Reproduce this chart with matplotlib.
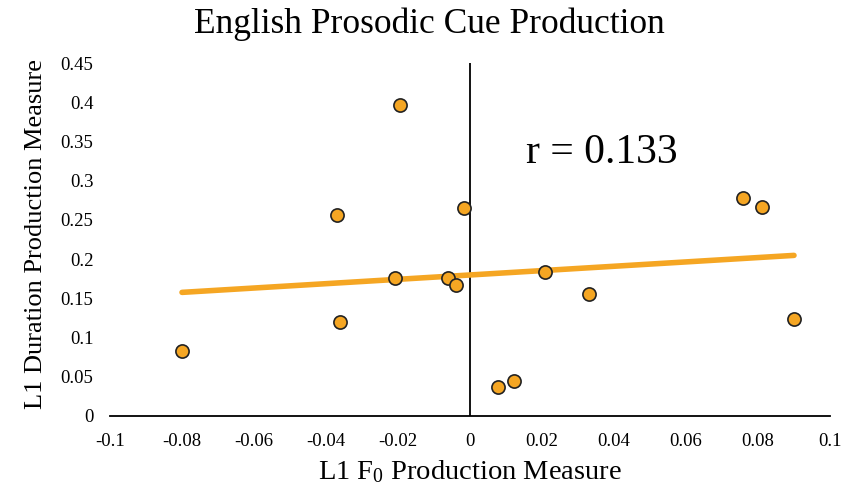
import numpy as np
import matplotlib
matplotlib.use("Agg")
import matplotlib.pyplot as plt

plt.rcParams['font.family'] = ['Liberation Serif', 'DejaVu Serif']
plt.rcParams['mathtext.fontset'] = 'custom'
plt.rcParams['mathtext.rm'] = 'Liberation Serif'
plt.rcParams['mathtext.it'] = 'Liberation Serif'

# L1 production measures per speaker
f0_measure = [-0.0800, -0.0194, -0.0369, -0.0361, -0.0208, -0.0060, -0.0040, -0.0016,
              0.0079, 0.0123, 0.0208, 0.0331, 0.0759, 0.0810, 0.0900]
duration_measure = [0.083, 0.396, 0.256, 0.120, 0.176, 0.176, 0.167, 0.265,
                    0.037, 0.045, 0.183, 0.156, 0.278, 0.267, 0.124]
x_ticks = [-0.1, -0.08, -0.06, -0.04, -0.02, 0, 0.02, 0.04, 0.06, 0.08, 0.1]
y_ticks = [0, 0.05, 0.1, 0.15, 0.2, 0.25, 0.3, 0.35, 0.4, 0.45]
r_label = "r = 0.133"

orange = "#F5A623"

fig = plt.figure(figsize=(8.43, 4.91), dpi=100)
ax = fig.add_axes([110 / 843, 75 / 491, 720 / 843, 353 / 491])

# linear trendline over the data range
slope, intercept = np.polyfit(f0_measure, duration_measure, 1)
xs = np.array([min(f0_measure), max(f0_measure)])
ax.plot(xs, slope * xs + intercept, color=orange, lw=4, solid_capstyle='round', zorder=2)

ax.scatter(f0_measure, duration_measure, s=90, color=orange, edgecolor='#222222',
           linewidth=1.2, zorder=3)

ax.set_xlim(-0.1, 0.1)
ax.set_ylim(0, 0.45)
ax.set_xticks(x_ticks)
ax.set_xticklabels([f"{v:g}" for v in x_ticks])
ax.set_yticks(y_ticks)
ax.set_yticklabels([f"{v:g}" for v in y_ticks])
ax.tick_params(length=0, labelsize=13.5)
ax.tick_params(axis='x', pad=12)
ax.tick_params(axis='y', pad=12)

for side in ['top', 'right', 'left']:
    ax.spines[side].set_visible(False)
ax.spines['bottom'].set_linewidth(1.3)
ax.axvline(0, color='black', lw=1.3, zorder=1)

ax.set_xlabel(r"L1 F$_0$ Production Measure", fontsize=20.5, labelpad=6)
ax.set_ylabel("L1 Duration Production Measure", fontsize=19)
ax.yaxis.set_label_coords(-0.088, 0.515)

ax.text(0.0365, 0.335, r_label, fontsize=30, ha='center', va='center')

fig.text(0.509, 0.95, "English Prosodic Cue Production", fontsize=25.5, ha='center', va='center')

fig.savefig("out.png", dpi=100)
